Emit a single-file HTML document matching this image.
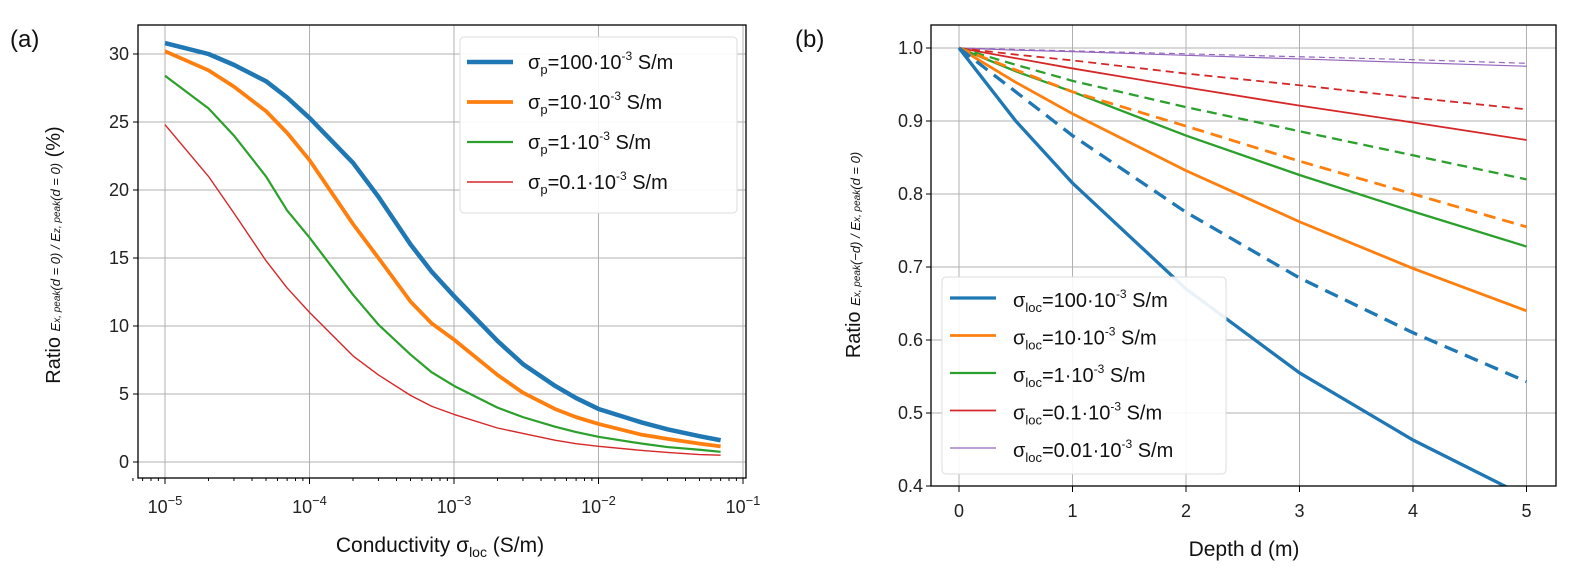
<!DOCTYPE html>
<html><head><meta charset="utf-8"><style>
html,body{margin:0;padding:0;background:#fff;}
svg{display:block;font-family:"Liberation Sans","DejaVu Sans",sans-serif;}
.tick{font-size:18px;fill:#222;}
.grid{stroke:#b0b0b0;stroke-width:1;}
</style></head><body>
<svg id="fig" width="1571" height="577" viewBox="0 0 1571 577">
<g id="left"></g>
<g id="right"></g>
</svg>
<script>
// ---- Chart (a) data ----
const aX = [1e-5,2e-5,3e-5,5e-5,7e-5,1e-4,2e-4,3e-4,5e-4,7e-4,1e-3,2e-3,3e-3,5e-3,7e-3,1e-2,2e-2,3e-2,5e-2,7e-2];
const aBlue = [30.8,30,29.2,28,26.8,25.3,22,19.5,16,14,12.2,8.9,7.2,5.6,4.7,3.9,2.9,2.4,1.9,1.6];
const aOrange = [30.2,28.8,27.6,25.8,24.2,22.2,17.5,15,11.8,10.2,9.0,6.4,5.1,3.9,3.3,2.8,2.0,1.7,1.35,1.15];
const aGreen = [28.4,26,24,21,18.5,16.5,12.3,10.1,7.9,6.6,5.6,4.0,3.3,2.6,2.2,1.85,1.35,1.1,0.9,0.75];
const aRed = [24.8,21,18.3,14.8,12.8,11,7.8,6.4,4.9,4.1,3.5,2.5,2.1,1.6,1.35,1.15,0.85,0.7,0.55,0.5];
const aYTicks = [0,5,10,15,20,25,30];
const aXTicks = [-5,-4,-3,-2,-1];
// ---- Chart (b) data ----
const bX = [0,0.5,1,2,3,4,5];
const bBlue = [1,0.9,0.815,0.67,0.555,0.463,0.385];
const bBlueD = [1,0.94,0.88,0.775,0.685,0.61,0.543];
const bOrange = [1,0.953,0.91,0.832,0.762,0.698,0.64];
const bOrangeD = [1,0.97,0.94,0.893,0.845,0.80,0.755];
const bGreen = [1,0.968,0.94,0.88,0.826,0.776,0.728];
const bGreenD = [1,0.977,0.955,0.919,0.886,0.853,0.82];
const bRed = [1,0.986,0.972,0.946,0.921,0.898,0.874];
const bRedD = [1,0.991,0.983,0.965,0.949,0.932,0.916];
const bPurple = [1,0.997,0.995,0.99,0.985,0.98,0.975];
const bPurpleD = [1,0.998,0.996,0.992,0.988,0.984,0.979];
const bYTicks = [0.4,0.5,0.6,0.7,0.8,0.9,1.0];
const bXTicks = [0,1,2,3,4,5];

const NS="http://www.w3.org/2000/svg";
function mk(parent,tag,attrs){const e=document.createElementNS(NS,tag);for(const k in attrs)e.setAttribute(k,attrs[k]);parent.appendChild(e);return e;}
const C={blue:"#1f77b4",orange:"#ff7f0e",green:"#2ca02c",red:"#d62728",purple:"#9467bd"};

// ===== Chart A =====
const L=document.getElementById('left');
const aBox={l:138,r:746,t:25,b:478};
const ax=v=>165+(Math.log10(v)+5)*144.5;
const ay=v=>462-v*13.6;
aYTicks.forEach(t=>{
  const g=mk(L,'line',{x1:aBox.l,x2:aBox.r,y1:ay(t),y2:ay(t),class:'grid'});
  
  
  mk(L,'line',{x1:aBox.l-5,x2:aBox.l,y1:ay(t),y2:ay(t),stroke:'#000'});
  const tx=mk(L,'text',{x:aBox.l-9,y:ay(t)+6,class:'tick','text-anchor':'end'});
  tx.textContent=t;
  
  
});
aXTicks.forEach(p=>{
  const x=ax(Math.pow(10,p));
  const g=mk(L,'line',{x1:x,x2:x,y1:aBox.t,y2:aBox.b,class:'grid'});
  
  
  mk(L,'line',{x1:x,x2:x,y1:aBox.b,y2:aBox.b+6,stroke:'#000'});
  for(let m=2;m<10&&p<-1;m++){const xm=ax(m*Math.pow(10,p));mk(L,'line',{x1:xm,x2:xm,y1:aBox.b,y2:aBox.b+3,stroke:'#000'});}
  const tx=mk(L,'text',{x:x,y:513,class:'tick','text-anchor':'middle'});
  tx.innerHTML='10<tspan dy="-8" font-size="13">−'+(-p)+'</tspan>';
  
  
});
for(let m=6;m<10;m++){const xm=ax(m*1e-6);mk(L,'line',{x1:xm,x2:xm,y1:aBox.b,y2:aBox.b+3,stroke:'#000'});}
[[aRed,C.red,1.4,'series-sigma-p-0.1'],[aGreen,C.green,2.2,'series-sigma-p-1'],[aOrange,C.orange,3.8,'series-sigma-p-10'],[aBlue,C.blue,4.5,'series-sigma-p-100']].forEach(([d,c,w,n])=>{
  const p=mk(L,'polyline',{points:aX.map((x,i)=>ax(x)+','+ay(d[i])).join(' '),fill:'none',stroke:c,'stroke-width':w,'stroke-linejoin':'round'});
  
  
});
mk(L,'rect',{x:aBox.l,y:aBox.t,width:aBox.r-aBox.l,height:aBox.b-aBox.t,fill:'none',stroke:'#000','stroke-width':1.3});
</script>
<script>
(function(){
const L=document.getElementById('left');
const lg=mk(L,'g',{});


mk(lg,'rect',{x:460,y:37,width:277,height:176,rx:4,fill:'#fff','fill-opacity':0.9,stroke:'#ddd'});
const items=[[C.blue,4.5,'100'],[C.orange,3.8,'10'],[C.green,2.2,'1'],[C.red,1.4,'0.1']];
items.forEach((it,i)=>{
  const y=57+i*40;
  mk(lg,'line',{x1:467,x2:513,y1:y+5,y2:y+5,stroke:it[0],'stroke-width':it[1]});
  const t=mk(lg,'text',{x:528,y:y+12,'font-size':20,fill:'#111'});
  t.innerHTML='σ<tspan font-size="13" dy="5">p</tspan><tspan dy="-5">='+it[2]+'·10</tspan><tspan font-size="12" dy="-9">-3</tspan><tspan dy="9"> S/m</tspan>';
  
  
});
const t1=mk(L,'text',{x:10,y:47,'font-size':24,fill:'#111'});t1.textContent='(a)';

const xl=mk(L,'text',{x:440,y:552,'font-size':21,'text-anchor':'middle',fill:'#111'});
xl.innerHTML='Conductivity σ<tspan font-size="14" dy="5">loc</tspan><tspan dy="-5"> (S/m)</tspan>';

const yl=mk(L,'text',{transform:'translate(60,255) rotate(-90)','font-size':20,'text-anchor':'middle',fill:'#111'});
yl.innerHTML='Ratio <tspan font-size="13" font-style="italic">E<tspan font-size="10">x, peak</tspan>(d = 0) / E<tspan font-size="10">z, peak</tspan>(d = 0)</tspan> (%)';


// ===== Chart B =====
const R=document.getElementById('right');
const bBox={l:931,r:1556,t:25,b:486};
const bx=v=>959+v*113.5;
const by=v=>48+(1-v)*730;
bYTicks.forEach(t=>{
  const g=mk(R,'line',{x1:bBox.l,x2:bBox.r,y1:by(t),y2:by(t),class:'grid'});
  
  
  mk(R,'line',{x1:bBox.l-5,x2:bBox.l,y1:by(t),y2:by(t),stroke:'#000'});
  const tx=mk(R,'text',{x:bBox.l-8,y:by(t)+6,class:'tick','text-anchor':'end'});
  tx.textContent=t.toFixed(1);
  
  
});
bXTicks.forEach(t=>{
  const x=bx(t);
  const g=mk(R,'line',{x1:x,x2:x,y1:bBox.t,y2:bBox.b,class:'grid'});
  
  
  mk(R,'line',{x1:x,x2:x,y1:bBox.b,y2:bBox.b+6,stroke:'#000'});
  const tx=mk(R,'text',{x:x,y:517,class:'tick','text-anchor':'middle'});
  tx.textContent=t;
  
  
});
const cp=mk(R,'clipPath',{id:'bclip'});mk(cp,'rect',{x:bBox.l,y:bBox.t,width:bBox.r-bBox.l,height:bBox.b-bBox.t});
const series=[
 [bPurpleD,C.purple,1.2,'6 4','purple-dashed'],[bPurple,C.purple,1.2,null,'purple-solid'],
 [bRedD,C.red,1.8,'8 5','red-dashed'],[bRed,C.red,1.8,null,'red-solid'],
 [bGreenD,C.green,2.3,'10 6','green-dashed'],[bGreen,C.green,2.3,null,'green-solid'],
 [bOrangeD,C.orange,2.8,'12 7','orange-dashed'],[bOrange,C.orange,2.8,null,'orange-solid'],
 [bBlueD,C.blue,3.3,'14 8','blue-dashed'],[bBlue,C.blue,3.3,null,'blue-solid']];
series.forEach(([d,c,w,da,n])=>{
  const a={points:bX.map((x,i)=>bx(x)+','+by(d[i])).join(' '),fill:'none',stroke:c,'stroke-width':w,'clip-path':'url(#bclip)'};
  if(da)a['stroke-dasharray']=da;
  const p=mk(R,'polyline',a);
  
  
});
mk(R,'rect',{x:bBox.l,y:bBox.t,width:bBox.r-bBox.l,height:bBox.b-bBox.t,fill:'none',stroke:'#000','stroke-width':1.3});
const lg2=mk(R,'g',{});


mk(lg2,'rect',{x:942,y:277,width:284,height:197,rx:4,fill:'#fff','fill-opacity':0.9,stroke:'#ddd'});
[[C.blue,3.3,'100'],[C.orange,2.8,'10'],[C.green,2.3,'1'],[C.red,1.8,'0.1'],[C.purple,1.2,'0.01']].forEach((it,i)=>{
  const y=298+i*37.5;
  mk(lg2,'line',{x1:950,x2:996,y1:y,y2:y,stroke:it[0],'stroke-width':it[1]});
  const t=mk(lg2,'text',{x:1013,y:y+9,'font-size':20,fill:'#111'});
  t.innerHTML='σ<tspan font-size="13" dy="5">loc</tspan><tspan dy="-5">='+it[2]+'·10</tspan><tspan font-size="12" dy="-9">-3</tspan><tspan dy="9"> S/m</tspan>';
  
  
});
const t2=mk(R,'text',{x:795,y:47,'font-size':24,fill:'#111'});t2.textContent='(b)';

const xl2=mk(R,'text',{x:1244,y:556,'font-size':21,'text-anchor':'middle',fill:'#111'});
xl2.textContent='Depth d (m)';

const yl2=mk(R,'text',{transform:'translate(860,255) rotate(-90)','font-size':20,'text-anchor':'middle',fill:'#111'});
yl2.innerHTML='Ratio <tspan font-size="13" font-style="italic">E<tspan font-size="10">x, peak</tspan>(−d) / E<tspan font-size="10">x, peak</tspan>(d = 0)</tspan>';

})();
</script>
</body></html>
